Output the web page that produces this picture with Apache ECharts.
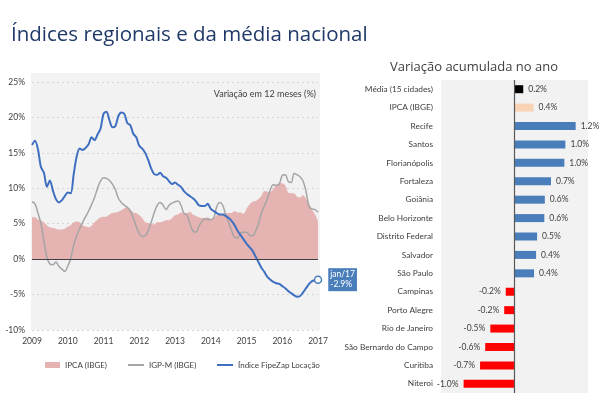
<!DOCTYPE html>
<html><head><meta charset="utf-8">
<script src="https://cdn.jsdelivr.net/npm/echarts@6/dist/echarts.min.js"></script>
<style>html,body{margin:0;padding:0;background:#fff}#c{width:600px;height:407px}</style>
</head><body><div id="c"></div>
<script>
var years = ['2009','2010','2011','2012','2013','2014','2015','2016','2017'];
var months = [];
years.forEach(function(y, k){ for (var m = 1; m <= 12; m++) { if (k === years.length - 1 && m > 1) break; months.push(y + '-' + (m < 10 ? '0' + m : m)); } });

var ipca = [5.9,5.9,5.6,5.5,5.2,4.8,4.5,4.4,4.3,4.2,4.2,4.3,
 4.6,4.8,5.2,5.3,5.2,4.8,4.6,4.5,4.7,5.2,5.6,5.9,
 6.0,6.0,6.3,6.5,6.6,6.7,6.9,7.2,7.3,7.0,6.6,6.5,
 6.2,5.8,5.2,5.1,5.0,4.9,5.2,5.2,5.3,5.5,5.5,5.8,
 6.2,6.3,6.6,6.5,6.5,6.7,6.3,6.1,5.9,5.8,5.8,5.9,
 5.6,5.7,6.2,6.3,6.4,6.5,6.5,6.5,6.8,6.6,6.6,6.4,
 7.1,7.7,8.1,8.2,8.5,8.9,9.6,9.5,9.5,9.9,10.5,10.7,
 10.7,10.4,9.4,9.3,9.3,8.8,8.7,9.0,8.5,7.9,7.0,6.3,5.4];
var igpm = [8.1,7.8,6.5,5.0,2.5,0.3,-0.7,-0.8,-0.4,-1.0,-1.4,-1.7,
 -1.0,0.1,2.0,3.3,4.3,5.2,6.0,6.8,7.7,8.7,10.0,11.0,
 11.5,11.4,11.1,10.6,9.8,8.6,8.0,7.6,7.3,6.8,5.8,4.6,
 3.6,3.2,3.3,4.0,5.2,6.5,7.6,8.0,7.6,7.0,7.6,7.9,
 8.1,8.2,7.6,6.5,6.2,5.0,4.0,3.8,4.6,5.3,5.7,5.6,
 5.6,5.8,7.4,8.0,7.6,6.3,5.2,4.0,3.1,3.0,3.7,3.8,
 3.8,3.4,3.3,3.9,5.0,6.5,7.5,8.5,9.8,10.5,10.4,10.6,
 11.8,11.9,11.0,10.8,12.1,11.9,11.6,11.0,9.5,7.4,7.1,7.0,6.6];
var fipezap = [16.1,16.7,15.5,13.0,12.2,10.2,11.1,9.7,8.5,8.0,8.3,8.9,
 9.4,9.3,12.0,14.5,15.6,15.4,15.7,16.2,17.2,16.8,17.6,18.4,
 20.5,20.8,19.6,18.6,18.8,20.2,20.7,20.5,19.2,18.9,17.7,17.2,
 16.0,15.6,15.0,14.0,12.8,12.0,11.9,12.2,11.7,11.5,11.0,10.6,
 10.8,10.5,10.2,9.6,9.2,8.9,8.6,8.2,7.6,7.5,7.5,7.8,
 7.1,6.8,6.5,6.3,6.3,6.1,5.8,5.4,4.8,4.0,3.4,2.8,
 2.2,1.7,1.2,0.4,-0.4,-1.2,-1.8,-2.5,-2.9,-3.2,-3.4,-3.5,
 -3.8,-4.1,-4.5,-4.8,-5.1,-5.3,-5.2,-4.7,-4.1,-3.5,-3.1,-3.0,-2.9];
var yTicks = [-10, 25, 5];

var cities = ['Média (15 cidades)','IPCA (IBGE)','Recife','Santos','Florianópolis','Fortaleza','Goiânia','Belo Horizonte','Distrito Federal','Salvador','São Paulo','Campinas','Porto Alegre','Rio de Janeiro','São Bernardo do Campo','Curitiba','Niteroi'];
var accum = [0.18,0.38,1.2,1.0,0.98,0.72,0.6,0.59,0.45,0.43,0.39,-0.16,-0.19,-0.46,-0.56,-0.66,-0.98];

var FONT = '"Open Sans","Noto Sans",sans-serif';
var SMALL = 'Lato,"Open Sans",sans-serif';
var TXT = '#404040';
var chart = echarts.init(document.getElementById('c'), null, {renderer: 'canvas'});

function barColor(i, v) {
  if (i === 0) return '#000000';
  if (i === 1) return '#f8d3b4';
  return v >= 0 ? '#4a7ebb' : '#ff0000';
}

var legendText = {fontSize: 8, color: TXT, fontFamily: SMALL};

chart.setOption({
  animation: false,
  textStyle: {fontFamily: SMALL},
  graphic: [
    {type: 'rect', z: -10, shape: {x: 31, y: 73, width: 289, height: 257}, style: {fill: '#f2f2f2'}},
    {type: 'text', left: 11, top: 25, style: {text: 'Índices regionais e da média nacional', font: '400 20.5px ' + FONT, fill: '#1f3a68'}},
    {type: 'text', x: 316, y: 90, style: {text: 'Variação em 12 meses (%)', font: '400 9px ' + SMALL, fill: TXT, textAlign: 'right'}},
    {type: 'text', x: 474, y: 61, style: {text: 'Variação acumulada no ano', font: '400 13px ' + FONT, fill: TXT, textAlign: 'center'}}
  ],
  grid: [
    {left: 32, right: 282, top: 82, bottom: 77},
    {left: 441, right: 12, top: 80, bottom: 14, show: true, backgroundColor: '#f2f2f2', borderWidth: 0}
  ],
  legend: [
    {left: 45, top: 361, padding: 0, icon: 'rect', itemWidth: 15, itemHeight: 6, textStyle: legendText, data: ['IPCA (IBGE)']},
    {left: 128, top: 361, padding: 0, icon: 'rect', itemWidth: 16, itemHeight: 2, textStyle: legendText, data: ['IGP-M (IBGE)']},
    {left: 217, top: 361, padding: 0, icon: 'rect', itemWidth: 16, itemHeight: 2, textStyle: legendText, data: ['Índice FipeZap Locação']}
  ],
  xAxis: [
    {type: 'category', gridIndex: 0, data: months, boundaryGap: false,
     axisLine: {show: false}, axisTick: {show: false},
     axisLabel: {interval: function(i){ return i % 12 === 0; }, formatter: function(v){ return v.slice(0,4); }, fontSize: 8.5, color: TXT, margin: 7}},
    {type: 'value', gridIndex: 1, min: -1.42, max: 1.44, show: false, splitLine: {show: false}}
  ],
  yAxis: [
    {type: 'value', gridIndex: 0, min: yTicks[0], max: yTicks[1], interval: yTicks[2],
     axisLine: {show: false}, axisTick: {show: false},
     axisLabel: {formatter: '{value}%', fontSize: 8.5, color: TXT, margin: 7},
     splitLine: {lineStyle: {color: '#d4d4d4', type: [2, 3]}}},
    {type: 'category', gridIndex: 1, data: cities, inverse: true,
     axisLine: {show: false}, axisTick: {show: false},
     axisLabel: {fontSize: 8.3, color: TXT, margin: 8}}
  ],
  series: [
    {name: 'IPCA (IBGE)', type: 'line', xAxisIndex: 0, yAxisIndex: 0, data: ipca, smooth: 0.3, showSymbol: false,
     lineStyle: {width: 0}, itemStyle: {color: '#e6b3b3'}, areaStyle: {color: '#e6b3b3', opacity: 1},
     markLine: {silent: true, symbol: 'none', label: {show: false}, lineStyle: {color: '#404040', width: 1, type: 'solid'}, data: [{yAxis: 0}]}},
    {name: 'IGP-M (IBGE)', type: 'line', xAxisIndex: 0, yAxisIndex: 0, data: igpm, smooth: 0.4, showSymbol: false,
     lineStyle: {width: 1.5, color: '#a5a5a5'}, itemStyle: {color: '#a5a5a5'}},
    {name: 'Índice FipeZap Locação', type: 'line', xAxisIndex: 0, yAxisIndex: 0, smooth: 0.3,
     data: fipezap.map(function(v, i){
       if (i === fipezap.length - 1) return {value: v, symbol: 'circle', symbolSize: 7,
         itemStyle: {color: '#ffffff', borderColor: '#4a7ebb', borderWidth: 1.5},
         label: {show: true, position: 'right', distance: 6, formatter: 'jan/17\n' + v.toFixed(1) + '%',
           backgroundColor: '#4a7ebb', color: '#ffffff', fontSize: 8.5, lineHeight: 10, padding: [2, 2, 1, 2]}};
       return {value: v, symbol: 'none'};
     }),
     showSymbol: true, lineStyle: {width: 2, color: '#3e6fc1'}, itemStyle: {color: '#3e6fc1'}},
    {type: 'bar', xAxisIndex: 1, yAxisIndex: 1, barWidth: 8,
     data: accum.map(function(v, i){
       return {value: v, itemStyle: {color: barColor(i, v)},
         label: {show: true, position: v >= 0 ? 'right' : 'left', distance: 5, formatter: v.toFixed(1) + '%', fontSize: 8.5, color: TXT}};
     }),
     markLine: {silent: true, symbol: 'none', label: {show: false}, lineStyle: {color: '#595959', width: 1.2, type: 'solid'}, data: [{xAxis: 0}]}}
  ]
});
</script></body></html>
